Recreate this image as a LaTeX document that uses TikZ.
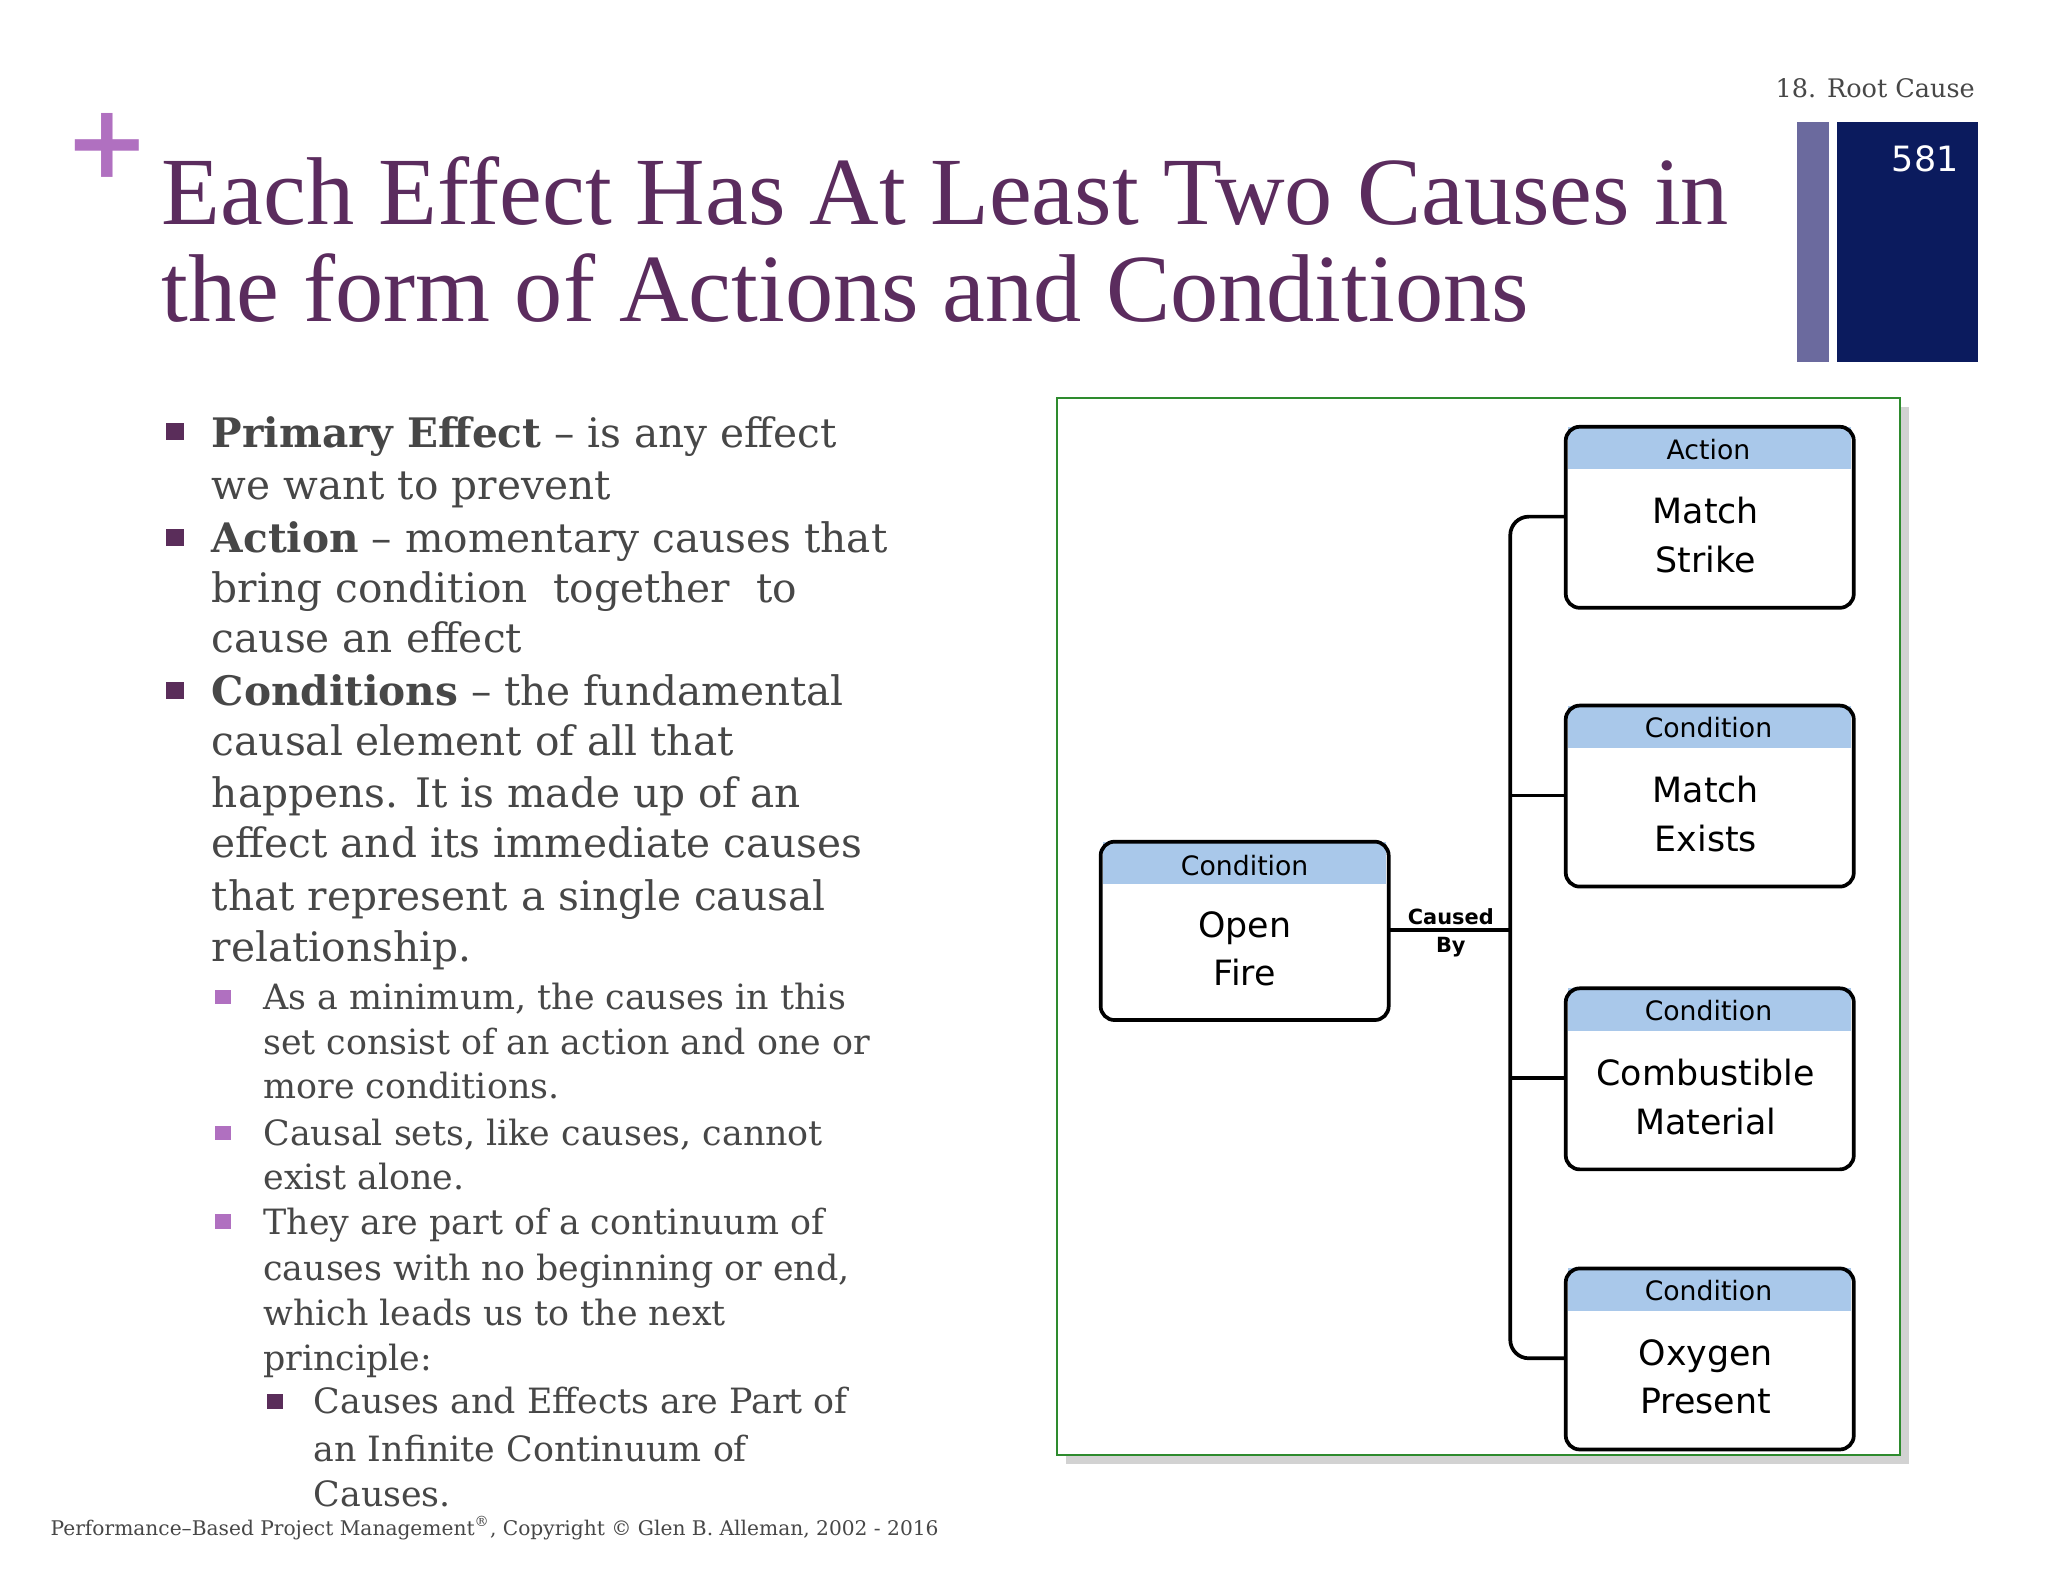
\documentclass[tikz,border=0pt]{standalone}
\usepackage{fontspec}
\setmainfont{DejaVu Serif}
\newfontfamily\tser{Liberation Serif}
\newfontfamily\dsans{DejaVu Sans}
\usetikzlibrary{shadows}
\definecolor{ttl}{HTML}{5B2C5E}
\definecolor{txt}{HTML}{474747}
\definecolor{bdk}{HTML}{5A2D5A}
\definecolor{blt}{HTML}{B070C0}
\definecolor{hdr}{HTML}{A9C8EA}
\definecolor{barl}{HTML}{6B6A9E}
\definecolor{barn}{HTML}{0B1B5E}
\definecolor{pgreen}{HTML}{2E8B2E}
\newcommand{\mainl}[3]{\node[anchor=base west,font=\fontsize{17.5}{22}\selectfont,text=txt,inner sep=0] (#1) at (160,#2) {#3};}
\newcommand{\subl}[3]{\node[anchor=base west,font=\fontsize{15}{19}\selectfont,text=txt,inner sep=0] (#1) at (199,#2) {#3};}
\newcommand{\subsubl}[3]{\node[anchor=base west,font=\fontsize{15}{19}\selectfont,text=txt,inner sep=0] (#1) at (237,#2) {#3};}
\newcommand{\cbox}[5]{%
 \fill[hdr] (1187,#2) rectangle (1401,#2+32);
 \draw[line width=1.6pt,rounded corners=6] (1185,#2) rectangle (1403,#2+137);
 \node[font=\dsans\fontsize{11.5}{13}\selectfont] (#1h) at (1293,#2+17) {#3};
 \node[font=\dsans\fontsize{15}{21}\selectfont,align=center] (#1) at (1291,#2+82) {#4\\#5};
 \coordinate (#1w) at (1185,#2+68);}
\begin{document}
\begin{tikzpicture}[x=0.02cm,y=-0.02cm]
\useasboundingbox (0,0) rectangle (1550,1197);
\fill[white] (0,0) rectangle (1550,1197);
% header
\node[text=blt,font=\fontsize{44}{44}\selectfont\bfseries] (plus) at (81,110) {+};
\node[anchor=base east,text=txt,font=\fontsize{11}{14}\selectfont,inner sep=0] (sec) at (1495,74) {18. Root Cause};
\fill[barl] (1360,92) rectangle (1384,274);
\fill[barn] (1390,92) rectangle (1497,274);
\node[text=white,font=\dsans\fontsize{15}{17}\selectfont] (num) at (1457,120) {581};
\node[anchor=base west,text=ttl,font=\tser\fontsize{41.5}{52}\selectfont,inner sep=0] (t1) at (122,170) {Each Effect Has At Least Two Causes in};
\node[anchor=base west,text=ttl,font=\tser\fontsize{41.5}{52}\selectfont,inner sep=0] (t2) at (122,243) {the form of Actions and Conditions};
% bullets
\foreach \y in {328,408,524} \fill[bdk] (126,\y-8) rectangle (139,\y+5);
\foreach \y in {755,858,925} \fill[blt] (163,\y-6) rectangle (175,\y+5);
\fill[bdk] (202,1061-6) rectangle (214,1061+5);
\mainl{a1}{339}{\textbf{Primary Effect} -- is any effect}
\mainl{a2}{378}{we want to prevent}
\mainl{b1}{418}{\textbf{Action} -- momentary causes that}
\mainl{b2}{456}{bring condition\ \ together\ \ to}
\mainl{b3}{494}{cause an effect}
\mainl{c1}{534}{\textbf{Conditions} -- the fundamental}
\mainl{c2}{572}{causal element of all that}
\mainl{c3}{611}{happens. It is made up of an}
\mainl{c4}{649}{effect\ and its immediate causes}
\mainl{c5}{689}{that represent a single causal}
\mainl{c6}{728}{relationship.}
\subl{d1}{764}{As a minimum, the causes in this}
\subl{d2}{798}{set consist of an action and one or}
\subl{d3}{831}{more conditions.}
\subl{e1}{867}{Causal sets, like causes, cannot}
\subl{e2}{900}{exist alone.}
\subl{f1}{934}{They are part of a continuum of}
\subl{f2}{969}{causes with no beginning or end,}
\subl{f3}{1003}{which leads us to the next}
\subl{f4}{1037}{principle:}
\subsubl{g1}{1070}{Causes\ and Effects are Part of}
\subsubl{g2}{1106}{an Infinite Continuum of}
\subsubl{g3}{1140}{Causes.}
\node[anchor=base west,text=txt,font=\fontsize{8.7}{13}\selectfont,inner sep=0] (foot) at (38,1162) {Performance--Based Project Management\textsuperscript{\textregistered}, Copyright \textcopyright\ Glen B. Alleman, 2002 - 2016};
% panel
\draw[pgreen,line width=1pt,fill=white,drop shadow={shadow xshift=4pt,shadow yshift=-4pt,opacity=0.35}] (800,301) rectangle (1438,1101);
\cbox{ac}{323}{Action}{Match}{Strike}
\cbox{c1b}{534}{Condition}{Match}{Exists}
\cbox{c2b}{748}{Condition}{Combustible}{Material}
\cbox{c3b}{960}{Condition}{Oxygen}{Present}
\fill[hdr] (835,637) rectangle (1049,669);
\draw[line width=1.6pt,rounded corners=6] (833,637) rectangle (1051,772);
\node[font=\dsans\fontsize{11.5}{13}\selectfont] (lh) at (942,655) {Condition};
\node[font=\dsans\fontsize{15}{21}\selectfont,align=center] (lf) at (942,718) {Open\\Fire};
\coordinate (le) at (1051,704);
\coordinate (jn) at (1143,704);
\draw[line width=1.6pt] (le) -- (jn);
\draw[line width=1.6pt,rounded corners=8] (acw) -| (jn) |- (c3bw);
\draw[line width=1.6pt] (jn |- c1bw) -- (c1bw);
\draw[line width=1.6pt] (jn |- c2bw) -- (c2bw);
\node[font=\dsans\bfseries\fontsize{9}{11}\selectfont,anchor=south,inner sep=1] (cb1) at (1098,702) {Caused};
\node[font=\dsans\bfseries\fontsize{9}{11}\selectfont,anchor=north,inner sep=1] (cb2) at (1098,707) {By};
\end{tikzpicture}
\end{document}
